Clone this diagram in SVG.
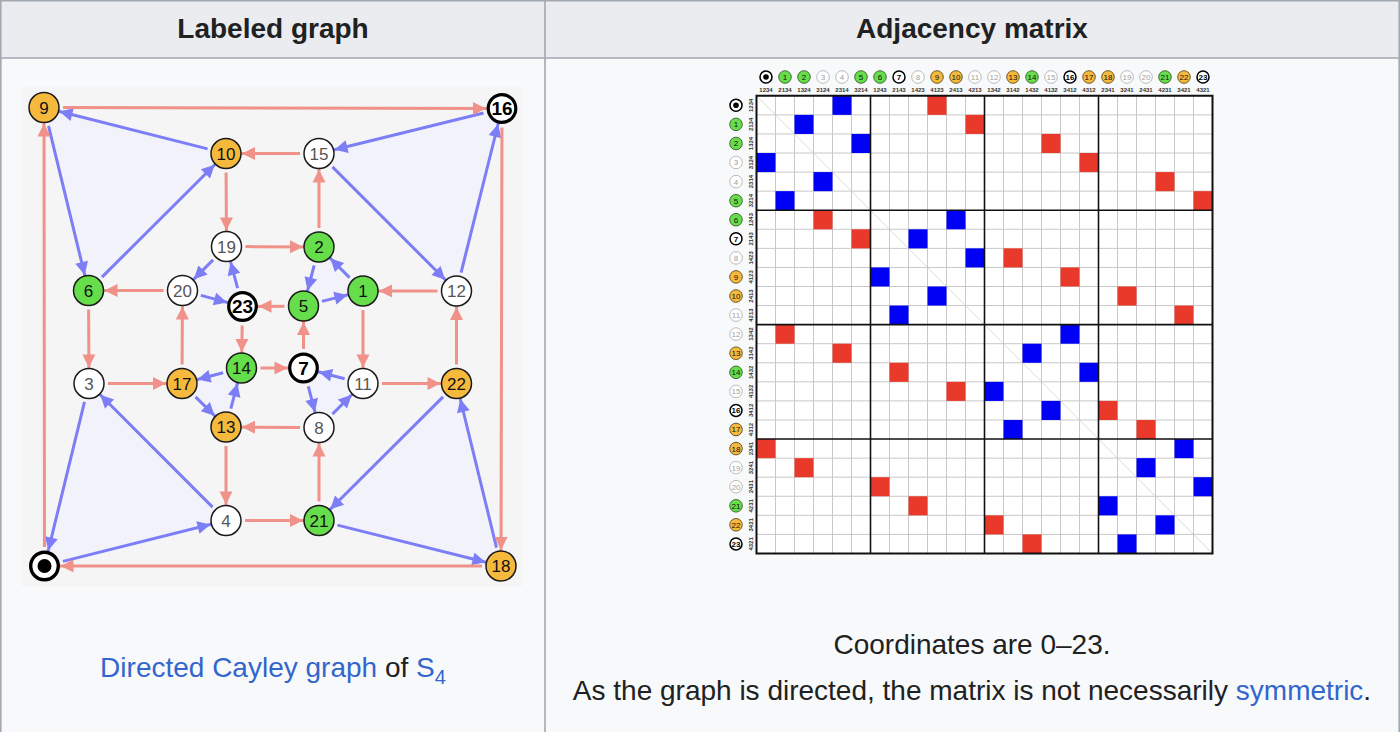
<svg xmlns="http://www.w3.org/2000/svg" width="1400" height="732" viewBox="0 0 1400 732">
<style>
.hd{font:bold 28px "Liberation Sans",Arial,sans-serif;fill:#202122;text-anchor:middle}
.cap{font:28px "Liberation Sans",Arial,sans-serif;fill:#202122;text-anchor:middle}
.lnk{fill:#3366cc}
.er{stroke:#f0928a;stroke-width:3;fill:none;marker-end:url(#mr);stroke-dasharray:0 19 2000}
.eb{stroke:#7d7ef5;stroke-width:3;fill:none;marker-end:url(#mb);stroke-dasharray:0 19 2000}
.tri{fill:#f1f2fa}
.nd circle{stroke:#1a1a1a;stroke-width:1.5}
.nd text{font:17px "Liberation Sans",Arial,sans-serif;text-anchor:middle;fill:#111}
.nw circle{fill:#fff}
.nw text{fill:#555}
.ng circle{fill:#66dd4a}
.no circle{fill:#f5b93d}
.nb circle{fill:#fff;stroke:#000;stroke-width:3.2}
.nb text{font-weight:bold;font-size:19px;fill:#000}
.lb circle{stroke-width:0.8}
.lb text{font:8px "Liberation Sans",Arial,sans-serif;text-anchor:middle;fill:#111}
.lw circle{fill:#fff;stroke:#a8a8a8}
.lw text{fill:#a0a0a0}
.lg circle{fill:#66dd4a;stroke:#2d4a22}
.lo circle{fill:#f5b93d;stroke:#4a3a12}
.lk circle{fill:#fff;stroke:#000;stroke-width:1.5}
.lk text{font-weight:bold;fill:#000}
.pt{font:bold 6px "Liberation Sans",Arial,sans-serif;text-anchor:middle;fill:#333}
.gt{stroke:#c8c8c8;stroke-width:1;fill:none}
.gk{stroke:#111;stroke-width:1.6;fill:none}
</style>
<defs>
<marker id="mr" markerUnits="userSpaceOnUse" viewBox="0 -7 32 14" markerWidth="32" markerHeight="14" refX="31" refY="0" orient="auto"><path d="M2,-6.5 L15,0 L2,6.5 Z" fill="#f0928a"/></marker>
<marker id="mb" markerUnits="userSpaceOnUse" viewBox="0 -7 32 14" markerWidth="32" markerHeight="14" refX="31" refY="0" orient="auto"><path d="M2,-6.5 L15,0 L2,6.5 Z" fill="#7d7ef5"/></marker>
</defs>

<!-- table -->
<rect x="0" y="0" width="1400" height="732" fill="#f8f9fa"/>
<rect x="1" y="1" width="1398" height="57" fill="#eaecf0"/>
<g stroke="#a2a9b1" stroke-width="1.6" fill="none">
<path d="M0.8,0V732M1399.2,0V732M0,0.8H1400M0,58H1400M545,0V732"/>
</g>
<text class="hd" x="273" y="38">Labeled graph</text>
<text class="hd" x="972" y="38">Adjacency matrix</text>

<!-- graph -->
<rect x="22" y="87" width="500" height="500" fill="#f5f5f5"/>
<g id="faces">
<polygon class="tri" points="44.5,566 226,520.5 89,383.5"/>
<polygon class="tri" points="363,291 319,247 303.5,306"/>
<polygon class="tri" points="88.5,290.5 226,153.5 44,107.5"/>
<polygon class="tri" points="303.5,368 319,427.5 363,383.5"/>
<polygon class="tri" points="456.5,291 502,108.5 319,153.5"/>
<polygon class="tri" points="226,427 241.5,368 182,383.5"/>
<polygon class="tri" points="501,566 456.5,383.5 319,520.5"/>
<polygon class="tri" points="226.5,246.5 182.5,290.5 242.5,306.5"/>
</g>
<g id="connectors">
<path class="eb" d="M44.5,566 L226,520.5"/>
<path class="eb" d="M363,291 L319,247"/>
<path class="eb" d="M319,247 L303.5,306"/>
<path class="eb" d="M89,383.5 L44.5,566"/>
<path class="eb" d="M226,520.5 L89,383.5"/>
<path class="eb" d="M303.5,306 L363,291"/>
<path class="eb" d="M88.5,290.5 L226,153.5"/>
<path class="eb" d="M303.5,368 L319,427.5"/>
<path class="eb" d="M319,427.5 L363,383.5"/>
<path class="eb" d="M44,107.5 L88.5,290.5"/>
<path class="eb" d="M226,153.5 L44,107.5"/>
<path class="eb" d="M363,383.5 L303.5,368"/>
<path class="eb" d="M456.5,291 L502,108.5"/>
<path class="eb" d="M226,427 L241.5,368"/>
<path class="eb" d="M241.5,368 L182,383.5"/>
<path class="eb" d="M319,153.5 L456.5,291"/>
<path class="eb" d="M502,108.5 L319,153.5"/>
<path class="eb" d="M182,383.5 L226,427"/>
<path class="eb" d="M501,566 L456.5,383.5"/>
<path class="eb" d="M226.5,246.5 L182.5,290.5"/>
<path class="eb" d="M182.5,290.5 L242.5,306.5"/>
<path class="eb" d="M319,520.5 L501,566"/>
<path class="eb" d="M456.5,383.5 L319,520.5"/>
<path class="eb" d="M242.5,306.5 L226.5,246.5"/>
<path class="er" d="M44.5,566 L44,107.5"/>
<path class="er" d="M363,291 L363,383.5"/>
<path class="er" d="M319,247 L319,153.5"/>
<path class="er" d="M89,383.5 L182,383.5"/>
<path class="er" d="M226,520.5 L319,520.5"/>
<path class="er" d="M303.5,306 L242.5,306.5"/>
<path class="er" d="M88.5,290.5 L89,383.5"/>
<path class="er" d="M303.5,368 L303.5,306"/>
<path class="er" d="M319,427.5 L226,427"/>
<path class="er" d="M44,107.5 L502,108.5"/>
<path class="er" d="M226,153.5 L226.5,246.5"/>
<path class="er" d="M363,383.5 L456.5,383.5"/>
<path class="er" d="M456.5,291 L363,291"/>
<path class="er" d="M226,427 L226,520.5"/>
<path class="er" d="M241.5,368 L303.5,368"/>
<path class="er" d="M319,153.5 L226,153.5"/>
<path class="er" d="M502,108.5 L501,566"/>
<path class="er" d="M182,383.5 L182.5,290.5"/>
<path class="er" d="M501,566 L44.5,566"/>
<path class="er" d="M226.5,246.5 L319,247"/>
<path class="er" d="M182.5,290.5 L88.5,290.5"/>
<path class="er" d="M319,520.5 L319,427.5"/>
<path class="er" d="M456.5,383.5 L456.5,291"/>
<path class="er" d="M242.5,306.5 L241.5,368"/>
</g>

<g id="n0"><circle cx="44.5" cy="566" r="13.8" fill="#fff" stroke="#000" stroke-width="3.4"/><circle cx="44.5" cy="566" r="7" fill="#000"/></g>
<g id="n1" class="nd ng"><circle cx="363" cy="291" r="15"/><text x="363" y="297">1</text></g>
<g id="n2" class="nd ng"><circle cx="319" cy="247" r="15"/><text x="319" y="253">2</text></g>
<g id="n3" class="nd nw"><circle cx="89" cy="383.5" r="15"/><text x="89" y="389.5">3</text></g>
<g id="n4" class="nd nw"><circle cx="226" cy="520.5" r="15"/><text x="226" y="526.5">4</text></g>
<g id="n5" class="nd ng"><circle cx="303.5" cy="306" r="15"/><text x="303.5" y="312">5</text></g>
<g id="n6" class="nd ng"><circle cx="88.5" cy="290.5" r="15"/><text x="88.5" y="296.5">6</text></g>
<g id="n7" class="nd nb"><circle cx="303.5" cy="368" r="13.8"/><text x="303.5" y="374.8">7</text></g>
<g id="n8" class="nd nw"><circle cx="319" cy="427.5" r="15"/><text x="319" y="433.5">8</text></g>
<g id="n9" class="nd no"><circle cx="44" cy="107.5" r="15"/><text x="44" y="113.5">9</text></g>
<g id="n10" class="nd no"><circle cx="226" cy="153.5" r="15"/><text x="226" y="159.5">10</text></g>
<g id="n11" class="nd nw"><circle cx="363" cy="383.5" r="15"/><text x="363" y="389.5">11</text></g>
<g id="n12" class="nd nw"><circle cx="456.5" cy="291" r="15"/><text x="456.5" y="297">12</text></g>
<g id="n13" class="nd no"><circle cx="226" cy="427" r="15"/><text x="226" y="433">13</text></g>
<g id="n14" class="nd ng"><circle cx="241.5" cy="368" r="15"/><text x="241.5" y="374">14</text></g>
<g id="n15" class="nd nw"><circle cx="319" cy="153.5" r="15"/><text x="319" y="159.5">15</text></g>
<g id="n16" class="nd nb"><circle cx="502" cy="108.5" r="13.8"/><text x="502" y="115.3">16</text></g>
<g id="n17" class="nd no"><circle cx="182" cy="383.5" r="15"/><text x="182" y="389.5">17</text></g>
<g id="n18" class="nd no"><circle cx="501" cy="566" r="15"/><text x="501" y="572">18</text></g>
<g id="n19" class="nd nw"><circle cx="226.5" cy="246.5" r="15"/><text x="226.5" y="252.5">19</text></g>
<g id="n20" class="nd nw"><circle cx="182.5" cy="290.5" r="15"/><text x="182.5" y="296.5">20</text></g>
<g id="n21" class="nd ng"><circle cx="319" cy="520.5" r="15"/><text x="319" y="526.5">21</text></g>
<g id="n22" class="nd no"><circle cx="456.5" cy="383.5" r="15"/><text x="456.5" y="389.5">22</text></g>
<g id="n23" class="nd nb"><circle cx="242.5" cy="306.5" r="13.8"/><text x="242.5" y="313.3">23</text></g>

<text class="cap" x="273" y="677"><tspan class="lnk">Directed Cayley graph</tspan> of <tspan class="lnk">S<tspan font-size="20" dy="7">4</tspan></tspan></text>

<!-- matrix -->
<g id="matrix" transform="translate(756.5 95.8) scale(19 19.07)">
<rect x="0" y="0" width="24" height="24" fill="#fff"/>
<path d="M0,0L24,24" stroke="#dcdcdc" stroke-width="1" vector-effect="non-scaling-stroke"/>
<path class="gt" vector-effect="non-scaling-stroke" d="M1,0V24M2,0V24M3,0V24M4,0V24M5,0V24M7,0V24M8,0V24M9,0V24M10,0V24M11,0V24M13,0V24M14,0V24M15,0V24M16,0V24M17,0V24M19,0V24M20,0V24M21,0V24M22,0V24M23,0V24M0,1H24M0,2H24M0,3H24M0,4H24M0,5H24M0,7H24M0,8H24M0,9H24M0,10H24M0,11H24M0,13H24M0,14H24M0,15H24M0,16H24M0,17H24M0,19H24M0,20H24M0,21H24M0,22H24M0,23H24"/>
<g fill="#0000f5">
<rect x="4" y="0" width="1" height="1"/><rect x="2" y="1" width="1" height="1"/><rect x="5" y="2" width="1" height="1"/><rect x="0" y="3" width="1" height="1"/><rect x="3" y="4" width="1" height="1"/><rect x="1" y="5" width="1" height="1"/>
<rect x="10" y="6" width="1" height="1"/><rect x="8" y="7" width="1" height="1"/><rect x="11" y="8" width="1" height="1"/><rect x="6" y="9" width="1" height="1"/><rect x="9" y="10" width="1" height="1"/><rect x="7" y="11" width="1" height="1"/>
<rect x="16" y="12" width="1" height="1"/><rect x="14" y="13" width="1" height="1"/><rect x="17" y="14" width="1" height="1"/><rect x="12" y="15" width="1" height="1"/><rect x="15" y="16" width="1" height="1"/><rect x="13" y="17" width="1" height="1"/>
<rect x="22" y="18" width="1" height="1"/><rect x="20" y="19" width="1" height="1"/><rect x="23" y="20" width="1" height="1"/><rect x="18" y="21" width="1" height="1"/><rect x="21" y="22" width="1" height="1"/><rect x="19" y="23" width="1" height="1"/>
</g>
<g fill="#e8392b">
<rect x="9" y="0" width="1" height="1"/><rect x="11" y="1" width="1" height="1"/><rect x="15" y="2" width="1" height="1"/><rect x="17" y="3" width="1" height="1"/><rect x="21" y="4" width="1" height="1"/><rect x="23" y="5" width="1" height="1"/>
<rect x="3" y="6" width="1" height="1"/><rect x="5" y="7" width="1" height="1"/><rect x="13" y="8" width="1" height="1"/><rect x="16" y="9" width="1" height="1"/><rect x="19" y="10" width="1" height="1"/><rect x="22" y="11" width="1" height="1"/>
<rect x="1" y="12" width="1" height="1"/><rect x="4" y="13" width="1" height="1"/><rect x="7" y="14" width="1" height="1"/><rect x="10" y="15" width="1" height="1"/><rect x="18" y="16" width="1" height="1"/><rect x="20" y="17" width="1" height="1"/>
<rect x="0" y="18" width="1" height="1"/><rect x="2" y="19" width="1" height="1"/><rect x="6" y="20" width="1" height="1"/><rect x="8" y="21" width="1" height="1"/><rect x="12" y="22" width="1" height="1"/><rect x="14" y="23" width="1" height="1"/>
</g>
<path class="gk" vector-effect="non-scaling-stroke" d="M6,0V24M12,0V24M18,0V24M0,6H24M0,12H24M0,18H24"/>
<rect x="0" y="0" width="24" height="24" fill="none" stroke="#111" stroke-width="2" vector-effect="non-scaling-stroke"/>
</g>

<!-- column labels -->
<g id="collabels">
<g><circle cx="766" cy="77" r="6" fill="#fff" stroke="#000" stroke-width="1.6"/><circle cx="766" cy="77" r="2.8" fill="#000"/></g>
<g class="lb lg"><circle cx="785" cy="77" r="6.3"/><text x="785" y="79.9">1</text></g>
<g class="lb lg"><circle cx="804" cy="77" r="6.3"/><text x="804" y="79.9">2</text></g>
<g class="lb lw"><circle cx="823" cy="77" r="6.3"/><text x="823" y="79.9">3</text></g>
<g class="lb lw"><circle cx="842" cy="77" r="6.3"/><text x="842" y="79.9">4</text></g>
<g class="lb lg"><circle cx="861" cy="77" r="6.3"/><text x="861" y="79.9">5</text></g>
<g class="lb lg"><circle cx="880" cy="77" r="6.3"/><text x="880" y="79.9">6</text></g>
<g class="lb lk"><circle cx="899" cy="77" r="6"/><text x="899" y="79.9">7</text></g>
<g class="lb lw"><circle cx="918" cy="77" r="6.3"/><text x="918" y="79.9">8</text></g>
<g class="lb lo"><circle cx="937" cy="77" r="6.3"/><text x="937" y="79.9">9</text></g>
<g class="lb lo"><circle cx="956" cy="77" r="6.3"/><text x="956" y="79.9">10</text></g>
<g class="lb lw"><circle cx="975" cy="77" r="6.3"/><text x="975" y="79.9">11</text></g>
<g class="lb lw"><circle cx="994" cy="77" r="6.3"/><text x="994" y="79.9">12</text></g>
<g class="lb lo"><circle cx="1013" cy="77" r="6.3"/><text x="1013" y="79.9">13</text></g>
<g class="lb lg"><circle cx="1032" cy="77" r="6.3"/><text x="1032" y="79.9">14</text></g>
<g class="lb lw"><circle cx="1051" cy="77" r="6.3"/><text x="1051" y="79.9">15</text></g>
<g class="lb lk"><circle cx="1070" cy="77" r="6"/><text x="1070" y="79.9">16</text></g>
<g class="lb lo"><circle cx="1089" cy="77" r="6.3"/><text x="1089" y="79.9">17</text></g>
<g class="lb lo"><circle cx="1108" cy="77" r="6.3"/><text x="1108" y="79.9">18</text></g>
<g class="lb lw"><circle cx="1127" cy="77" r="6.3"/><text x="1127" y="79.9">19</text></g>
<g class="lb lw"><circle cx="1146" cy="77" r="6.3"/><text x="1146" y="79.9">20</text></g>
<g class="lb lg"><circle cx="1165" cy="77" r="6.3"/><text x="1165" y="79.9">21</text></g>
<g class="lb lo"><circle cx="1184" cy="77" r="6.3"/><text x="1184" y="79.9">22</text></g>
<g class="lb lk"><circle cx="1203" cy="77" r="6"/><text x="1203" y="79.9">23</text></g>
<g class="pt">
<text class="pt" x="766" y="92">1234</text><text class="pt" x="785" y="92">2134</text><text class="pt" x="804" y="92">1324</text><text class="pt" x="823" y="92">3124</text><text class="pt" x="842" y="92">2314</text><text class="pt" x="861" y="92">3214</text>
<text class="pt" x="880" y="92">1243</text><text class="pt" x="899" y="92">2143</text><text class="pt" x="918" y="92">1423</text><text class="pt" x="937" y="92">4123</text><text class="pt" x="956" y="92">2413</text><text class="pt" x="975" y="92">4213</text>
<text class="pt" x="994" y="92">1342</text><text class="pt" x="1013" y="92">3142</text><text class="pt" x="1032" y="92">1432</text><text class="pt" x="1051" y="92">4132</text><text class="pt" x="1070" y="92">3412</text><text class="pt" x="1089" y="92">4312</text>
<text class="pt" x="1108" y="92">2341</text><text class="pt" x="1127" y="92">3241</text><text class="pt" x="1146" y="92">2431</text><text class="pt" x="1165" y="92">4231</text><text class="pt" x="1184" y="92">3421</text><text class="pt" x="1203" y="92">4321</text>
</g>
</g>

<!-- row labels -->
<g id="rowlabels">
<g><circle cx="736" cy="105.3" r="6" fill="#fff" stroke="#000" stroke-width="1.6"/><circle cx="736" cy="105.3" r="2.8" fill="#000"/></g>
<g class="lb lg"><circle cx="736" cy="124.4" r="6.3"/><text x="736" y="127.3">1</text></g>
<g class="lb lg"><circle cx="736" cy="143.5" r="6.3"/><text x="736" y="146.4">2</text></g>
<g class="lb lw"><circle cx="736" cy="162.5" r="6.3"/><text x="736" y="165.4">3</text></g>
<g class="lb lw"><circle cx="736" cy="181.6" r="6.3"/><text x="736" y="184.5">4</text></g>
<g class="lb lg"><circle cx="736" cy="200.7" r="6.3"/><text x="736" y="203.6">5</text></g>
<g class="lb lg"><circle cx="736" cy="219.7" r="6.3"/><text x="736" y="222.6">6</text></g>
<g class="lb lk"><circle cx="736" cy="238.8" r="6"/><text x="736" y="241.7">7</text></g>
<g class="lb lw"><circle cx="736" cy="257.9" r="6.3"/><text x="736" y="260.8">8</text></g>
<g class="lb lo"><circle cx="736" cy="276.9" r="6.3"/><text x="736" y="279.8">9</text></g>
<g class="lb lo"><circle cx="736" cy="296" r="6.3"/><text x="736" y="298.9">10</text></g>
<g class="lb lw"><circle cx="736" cy="315.1" r="6.3"/><text x="736" y="318">11</text></g>
<g class="lb lw"><circle cx="736" cy="334.1" r="6.3"/><text x="736" y="337">12</text></g>
<g class="lb lo"><circle cx="736" cy="353.2" r="6.3"/><text x="736" y="356.1">13</text></g>
<g class="lb lg"><circle cx="736" cy="372.3" r="6.3"/><text x="736" y="375.2">14</text></g>
<g class="lb lw"><circle cx="736" cy="391.4" r="6.3"/><text x="736" y="394.3">15</text></g>
<g class="lb lk"><circle cx="736" cy="410.4" r="6"/><text x="736" y="413.3">16</text></g>
<g class="lb lo"><circle cx="736" cy="429.5" r="6.3"/><text x="736" y="432.4">17</text></g>
<g class="lb lo"><circle cx="736" cy="448.6" r="6.3"/><text x="736" y="451.5">18</text></g>
<g class="lb lw"><circle cx="736" cy="467.6" r="6.3"/><text x="736" y="470.5">19</text></g>
<g class="lb lw"><circle cx="736" cy="486.7" r="6.3"/><text x="736" y="489.6">20</text></g>
<g class="lb lg"><circle cx="736" cy="505.8" r="6.3"/><text x="736" y="508.7">21</text></g>
<g class="lb lo"><circle cx="736" cy="524.8" r="6.3"/><text x="736" y="527.7">22</text></g>
<g class="lb lk"><circle cx="736" cy="543.9" r="6"/><text x="736" y="546.8">23</text></g>
<text class="pt" transform="translate(753 105.3) rotate(-90)">1234</text>
<text class="pt" transform="translate(753 124.4) rotate(-90)">2134</text>
<text class="pt" transform="translate(753 143.5) rotate(-90)">1324</text>
<text class="pt" transform="translate(753 162.5) rotate(-90)">3124</text>
<text class="pt" transform="translate(753 181.6) rotate(-90)">2314</text>
<text class="pt" transform="translate(753 200.7) rotate(-90)">3214</text>
<text class="pt" transform="translate(753 219.7) rotate(-90)">1243</text>
<text class="pt" transform="translate(753 238.8) rotate(-90)">2143</text>
<text class="pt" transform="translate(753 257.9) rotate(-90)">1423</text>
<text class="pt" transform="translate(753 276.9) rotate(-90)">4123</text>
<text class="pt" transform="translate(753 296) rotate(-90)">2413</text>
<text class="pt" transform="translate(753 315.1) rotate(-90)">4213</text>
<text class="pt" transform="translate(753 334.1) rotate(-90)">1342</text>
<text class="pt" transform="translate(753 353.2) rotate(-90)">3142</text>
<text class="pt" transform="translate(753 372.3) rotate(-90)">1432</text>
<text class="pt" transform="translate(753 391.4) rotate(-90)">4132</text>
<text class="pt" transform="translate(753 410.4) rotate(-90)">3412</text>
<text class="pt" transform="translate(753 429.5) rotate(-90)">4312</text>
<text class="pt" transform="translate(753 448.6) rotate(-90)">2341</text>
<text class="pt" transform="translate(753 467.6) rotate(-90)">3241</text>
<text class="pt" transform="translate(753 486.7) rotate(-90)">2431</text>
<text class="pt" transform="translate(753 505.8) rotate(-90)">4231</text>
<text class="pt" transform="translate(753 524.8) rotate(-90)">3421</text>
<text class="pt" transform="translate(753 543.9) rotate(-90)">4321</text>
</g>

<text class="cap" x="972" y="654">Coordinates are 0–23.</text>
<text class="cap" x="972" y="700">As the graph is directed, the matrix is not necessarily <tspan class="lnk">symmetric</tspan>.</text>
</svg>
